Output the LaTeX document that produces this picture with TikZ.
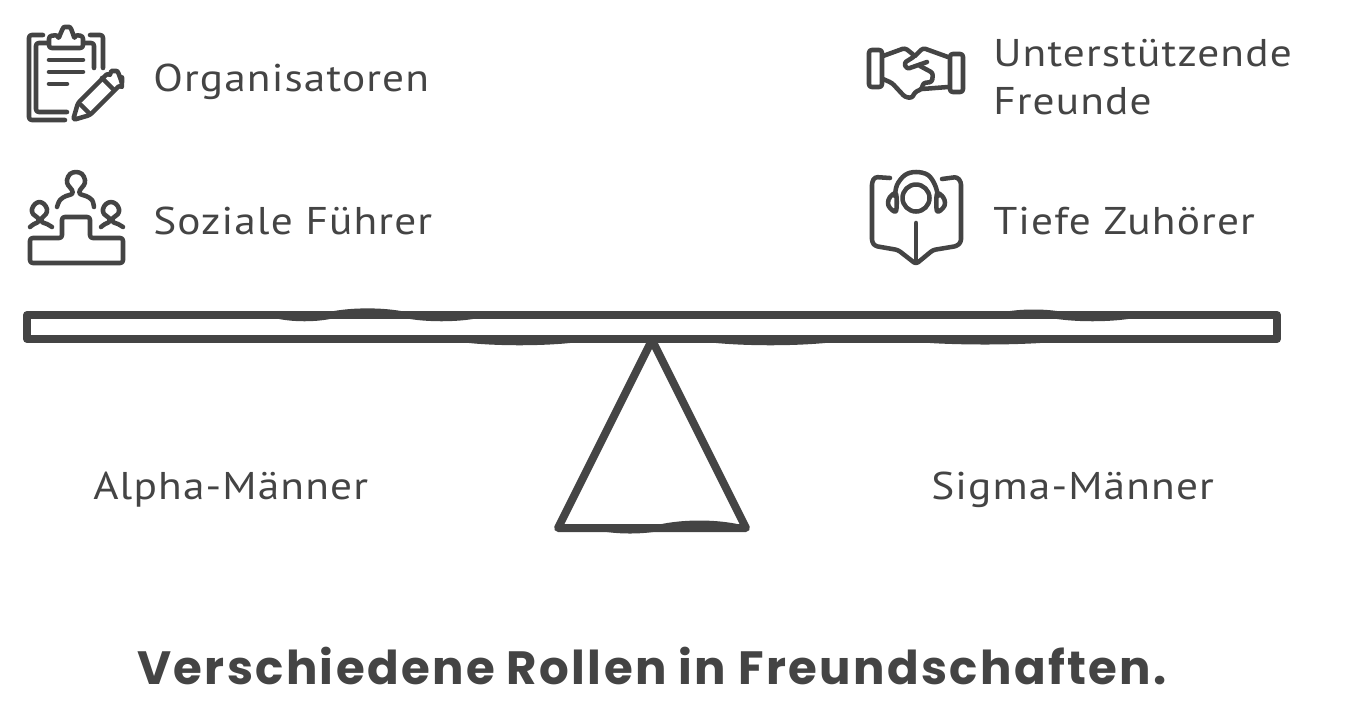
\documentclass[tikz,border=0pt]{standalone}
\usepackage{fontspec}
\newfontfamily\handfont{PT Sans}[FakeStretch=1.12,LetterSpace=3]
\newfontfamily\titlefont{Poppins}[BoldFont={* Bold},LetterSpace=5]
\usetikzlibrary{positioning}
\definecolor{ink}{HTML}{444444}
\tikzstyle{label}=[anchor=base west, inner sep=0pt, text=ink, font=\handfont\fontsize{29pt}{36pt}\selectfont]
\tikzstyle{icon}=[draw=ink, line width=3.4pt, line cap=round, line join=round, rounded corners=2pt]
\tikzstyle{curve}=[draw=ink, line width=3.4pt, line cap=round, line join=round]
\tikzstyle{beam}=[draw=ink, line width=6pt, line cap=round, line join=round]
\newcommand{\bump}[4]{\fill [ink] (#1,#3) .. controls ($(#1,#3)!0.3!(#2,#3)+(0,#4)$) and ($(#1,#3)!0.7!(#2,#3)+(0,#4)$) .. (#2,#3)--cycle;}
\usetikzlibrary{calc}

\begin{document}
\begin{tikzpicture}[x=0.75pt, y=-0.75pt]
\useasboundingbox (0,0) rectangle (1348,722);

\node [label] (organisatoren) at (153,91) {Organisatoren};
\node [label] (fuehrer) at (153,234) {Soziale Führer};
\node [label] (unterstuetzende) at (993,66) {Unterstützende};
\node [label] (freunde) at (993,114) {Freunde};
\node [label] (zuhoerer) at (993,234) {Tiefe Zuhörer};
\node [label] (alpha) at (93,499) {Alpha-Männer};
\node [label] (sigma) at (931,499) {Sigma-Männer};
\node [anchor=base, inner sep=0pt, text=ink, font=\titlefont\bfseries\fontsize{35pt}{40pt}\selectfont] (title) at (652,684) {Verschiedene Rollen in Freundschaften.};

% clipboard
\draw [icon] (43,35)--(29,35)--(29,120)--(65,120);
\draw [icon] (48,43)--(36,43)--(36,112)--(67,112);
\draw [icon] (90,35)--(103,35)--(103,68);
\draw [icon] (85,43)--(94,43)--(94,68);
\draw [icon] (49,48)--(49,36)--(58,35) to [out=-80,in=180] (67,27) to [out=0,in=-100] (75,35)--(83,36)--(83,48)--cycle;
\draw [icon] (49,60)--(83,60) (49,72)--(83,72) (49,84)--(67,84);
\draw [icon] (73,120)--(78,103)--(108,73) to [out=-45,in=180] (114,71) to [out=0,in=-90] (122,80) to [out=90,in=-45] (120,85)--(90,115)--cycle;
\draw [icon] (102,78)--(114,90) (81,105)--(90,114);

% podium
\draw [icon] (30,238)--(62,238)--(62,217)--(90,217)--(90,238)--(123,238)--(123,263)--(30,263)--cycle;
\draw [curve] plot [smooth, tension=0.6] coordinates {(57,207) (60,200) (66,196) (72,194) (72,190) (68,185) (67,180) (70,174) (76,172) (82,174) (85,180) (84,185) (80,190) (80,194) (86,196) (92,200) (94,207)};
\draw [curve] plot [smooth, tension=0.6] coordinates {(30,227) (34,224) (38,222) (38,218) (33,214) (32,209) (35,204) (39.5,202) (44,204) (47,209) (46,214) (42,218) (42,222) (47,224) (52,227)};
\draw [curve] plot [smooth, tension=0.6] coordinates {(101,227) (105,224) (109,222) (109,218) (104,214) (103,209) (106,204) (111,202) (116,204) (119,209) (118,214) (113,218) (113,222) (118,224) (123,227)};

% handshake
\draw [icon] (869,50) rectangle (882,87);
\draw [icon] (950,54) rectangle (963,92);
\draw [icon] (883,56)--(905,48)--(915,56)--(904,63)--(907,69)--(927,62);
\draw [icon] (915,56)--(923,48)--(948,57);
\draw [icon] (920,66)--(933,73)--(932,82)--(923,83)--(922,89)--(915,92)--(912,98)--(905,97)--(892,83)--(883,79);
\draw [icon] (922,89)--(948,87);

% book with headset
\draw [icon] (890,178)--(875,177)--(872,182)--(872,242)--(875,246)--(898,250)--(916,264)--(933,250)--(957,246)--(961,242)--(961,182)--(957,177)--(942,179);
\draw [icon] (916,223)--(916,260);
\draw [curve] (916,198) circle (13.5);
\draw [curve] plot [smooth, tension=0.6] coordinates {(895,196) (897,185) (905,175) (916,172) (928,175) (935,185) (938,196)};
\draw [curve] plot [smooth cycle, tension=0.6] coordinates {(896,194) (890,197) (888,203) (890,208) (896,211)};
\draw [curve] plot [smooth cycle, tension=0.6] coordinates {(937,194) (943,197) (945,203) (943,208) (937,211)};

% seesaw
\draw [beam] (27,315) rectangle (1277,339);
\draw [beam] (652,340)--(558,528)--(746,528)--cycle;
\bump{334}{401}{311}{-3.5}
\bump{1010}{1057}{311}{-2}
\bump{279}{330}{319}{3}
\bump{410}{473}{319}{3}
\bump{1057}{1128}{319}{3}
\bump{469}{570}{343}{3}
\bump{716}{825}{343}{3}
\bump{930}{1040}{343}{2}
\bump{657}{742}{525}{-6}
\bump{607}{653}{532}{2}
\end{tikzpicture}
\end{document}
